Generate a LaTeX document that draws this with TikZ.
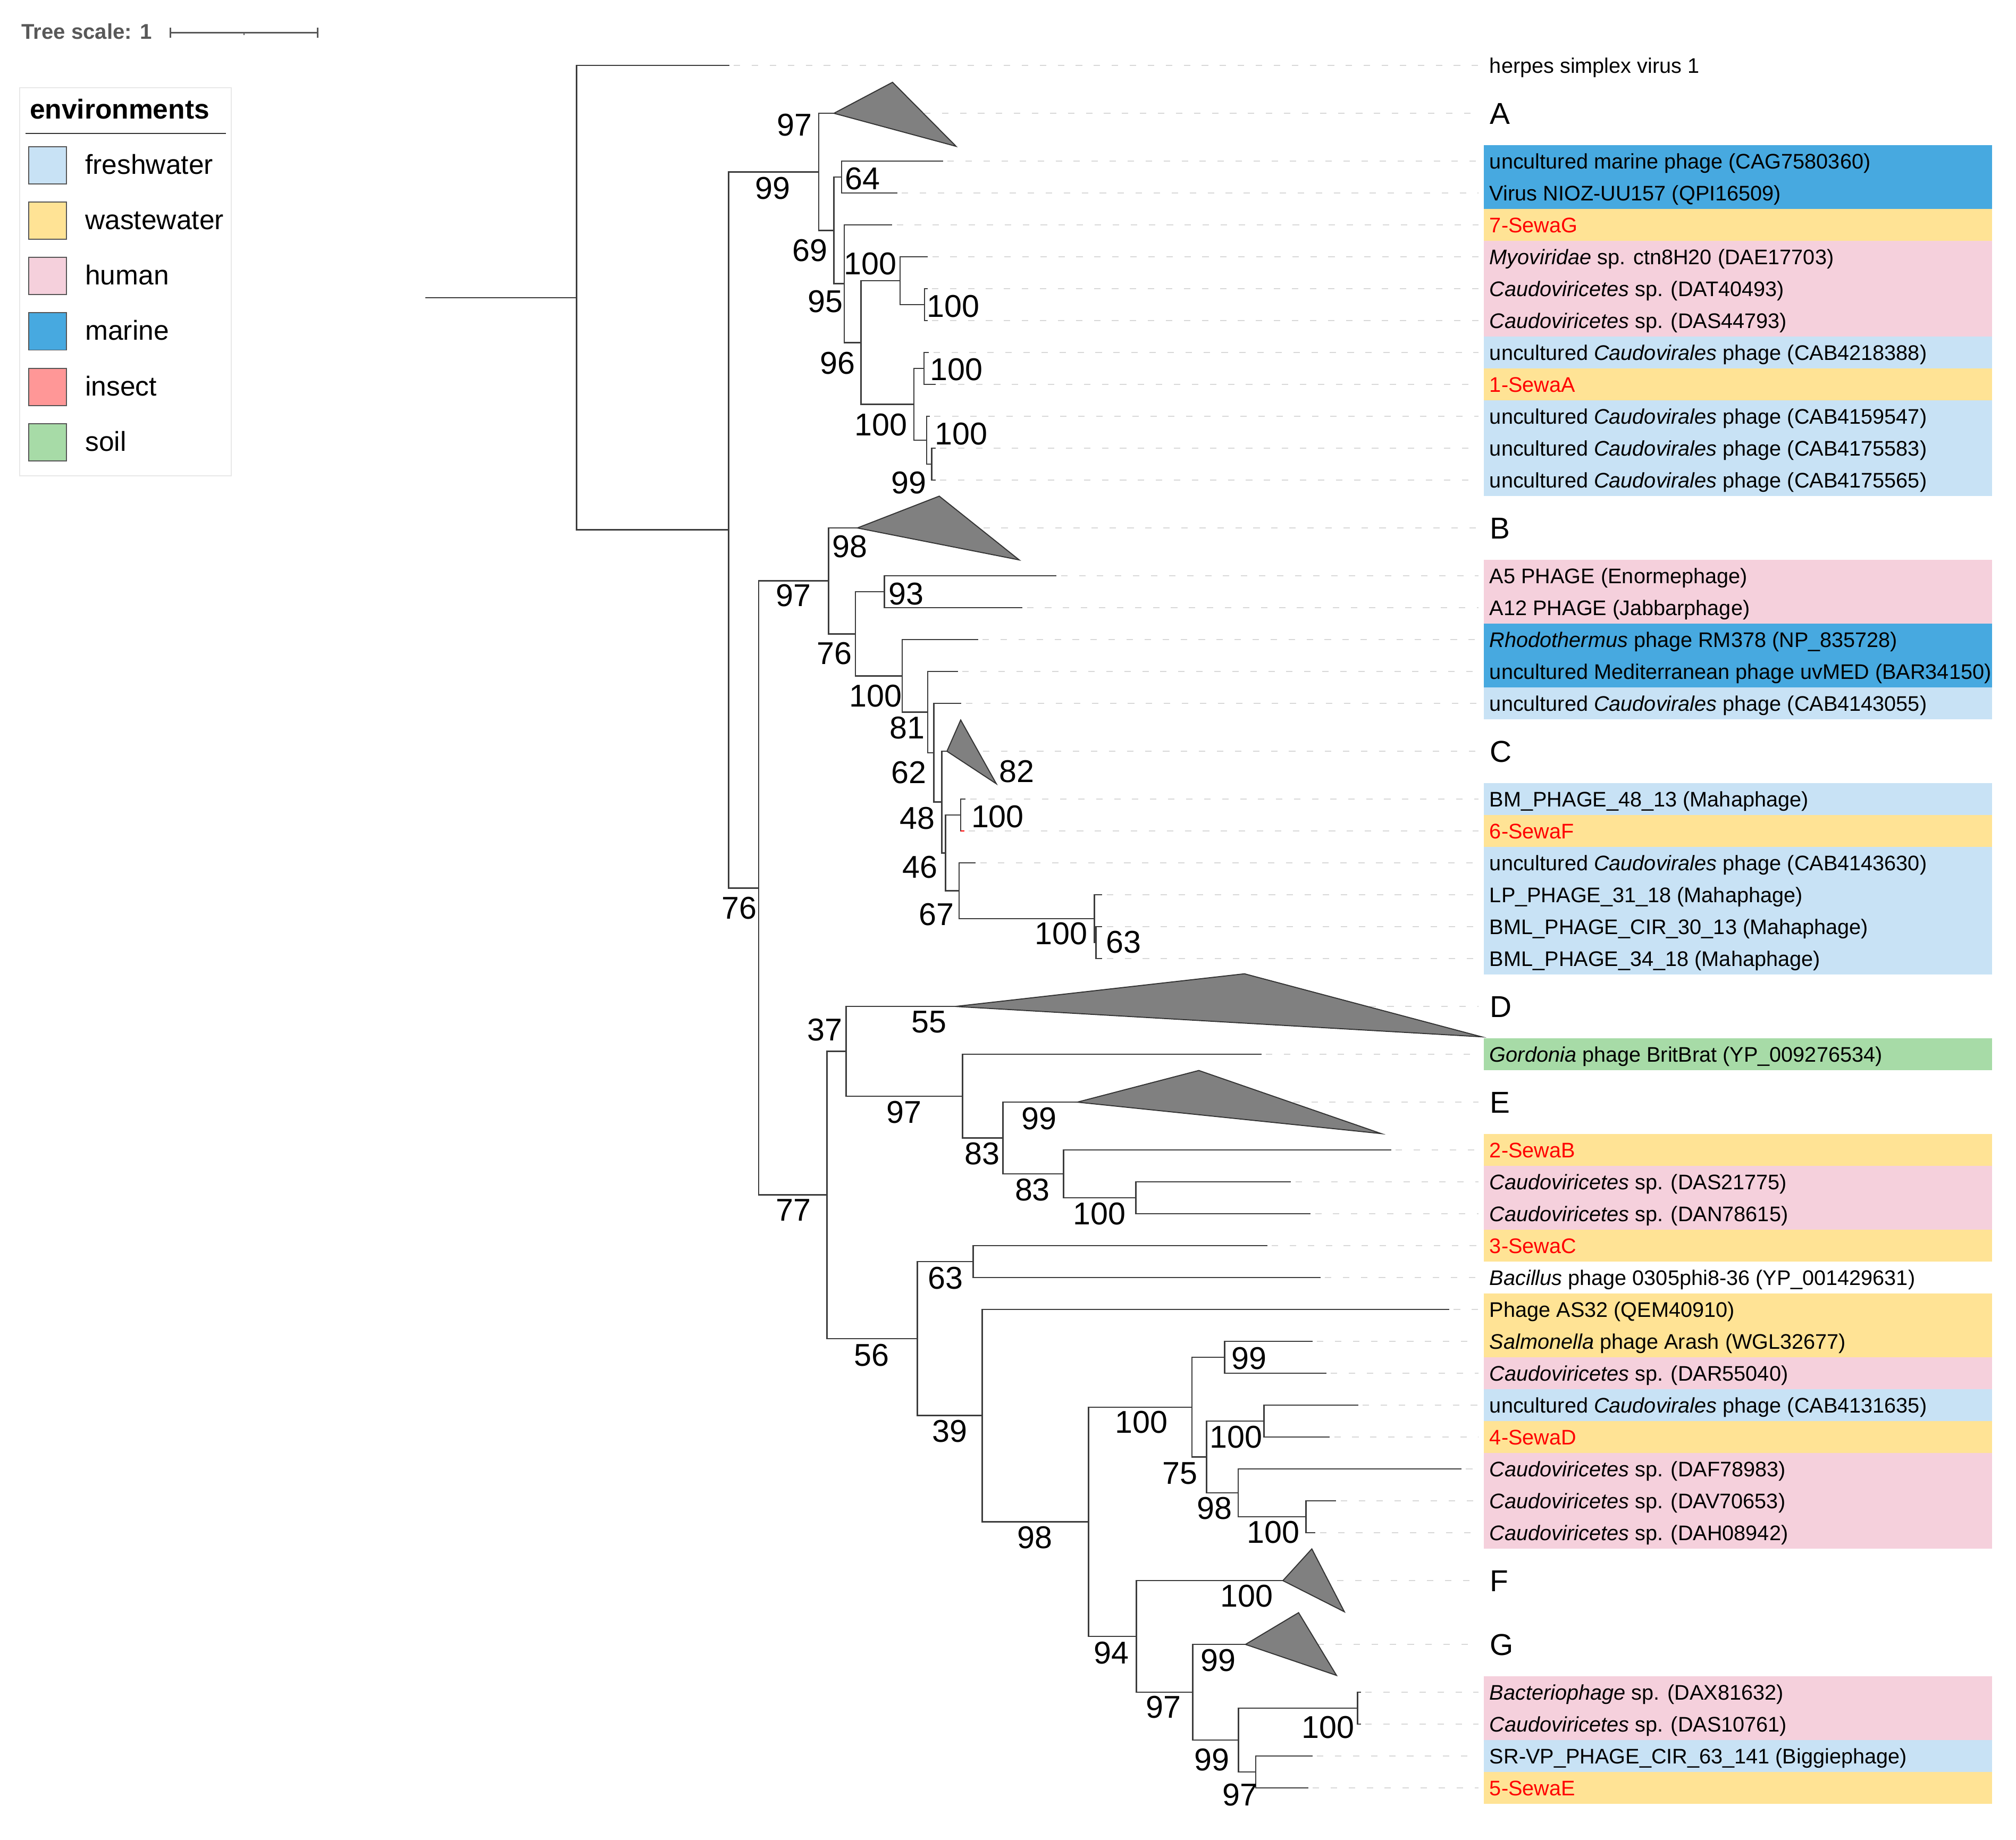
\documentclass[tikz,border=0pt]{standalone}
\usepackage{fontspec}
\setmainfont{Liberation Sans}
\usetikzlibrary{calc}
\definecolor{treecol}{HTML}{3C3C3C}
\definecolor{guidecol}{HTML}{D8D8D8}
\definecolor{cladefill}{HTML}{808080}
\definecolor{cladeedge}{HTML}{333333}
\definecolor{freshc}{HTML}{C8E2F5}
\definecolor{wastec}{HTML}{FFE395}
\definecolor{humanc}{HTML}{F5D0DC}
\definecolor{marinec}{HTML}{47A9E0}
\definecolor{insectc}{HTML}{FF9797}
\definecolor{soilc}{HTML}{A7DBA7}
\definecolor{sewared}{HTML}{FF0000}
\definecolor{scalegray}{HTML}{585858}
\definecolor{legendedge}{HTML}{E8E8E8}
\definecolor{swatchedge}{HTML}{555555}
\newcommand\taxfont{\fontsize{16.4}{18}\selectfont}
\newcommand\bsfont{\fontsize{24.5}{27}\selectfont}
\newcommand\letfont{\fontsize{23.5}{26}\selectfont}
\newcommand\legfont{\fontsize{21.3}{24}\selectfont}
\newcommand\envfont{\fontsize{21.3}{24}\selectfont\bfseries}
\newcommand\tsfont{\fontsize{16.6}{18}\selectfont\bfseries}
\newcommand\sewa[1]{\textcolor{sewared}{#1}}
\begin{document}
\begin{tikzpicture}[x=1pt,y=-1pt,
  br/.style={draw=treecol, line width=1.1pt, line cap=rect},
  guide/.style={draw=guidecol, line width=0.8pt, dash pattern=on 5pt off 9pt},
  clade/.style={fill=cladefill, draw=cladeedge, line width=0.8pt, line join=miter},
  bs/.style={inner sep=0pt, text height=17.5pt, text depth=0pt, font=\bsfont},
  taxon/.style={anchor=west, inner sep=0pt, text height=11.75pt, text depth=0pt, font=\taxfont},
  letter/.style={anchor=west, inner sep=0pt, text height=16.8pt, text depth=0pt, font=\letfont},
  swatch/.style={draw=swatchedge, line width=0.8pt}]
\useasboundingbox (0,0) rectangle (1568,1431);
\fill[white] (0,0) rectangle (1568,1431);

% ---------- colour bands ----------
\fill[marinec] (1153.9,112.93) rectangle (1549.2,162.55);
\fill[wastec]  (1153.9,162.55) rectangle (1549.2,187.35);
\fill[humanc]  (1153.9,187.35) rectangle (1549.2,261.79);
\fill[freshc]  (1153.9,261.79) rectangle (1549.2,286.60);
\fill[wastec]  (1153.9,286.60) rectangle (1549.2,311.40);
\fill[freshc]  (1153.9,311.40) rectangle (1549.2,385.84);
\fill[humanc]  (1153.9,435.46) rectangle (1549.2,485.08);
\fill[marinec] (1153.9,485.08) rectangle (1549.2,534.70);
\fill[freshc]  (1153.9,534.70) rectangle (1549.2,559.51);
\fill[freshc]  (1153.9,609.13) rectangle (1549.2,633.94);
\fill[wastec]  (1153.9,633.94) rectangle (1549.2,658.75);
\fill[freshc]  (1153.9,658.75) rectangle (1549.2,757.99);
\fill[soilc]   (1153.9,807.61) rectangle (1549.2,832.42);
\fill[wastec]  (1153.9,882.04) rectangle (1549.2,906.85);
\fill[humanc]  (1153.9,906.85) rectangle (1549.2,956.47);
\fill[wastec]  (1153.9,956.47) rectangle (1549.2,981.28);
\fill[wastec]  (1153.9,1006.09) rectangle (1549.2,1055.71);
\fill[humanc]  (1153.9,1055.71) rectangle (1549.2,1080.52);
\fill[freshc]  (1153.9,1080.52) rectangle (1549.2,1105.33);
\fill[wastec]  (1153.9,1105.33) rectangle (1549.2,1130.14);
\fill[humanc]  (1153.9,1130.14) rectangle (1549.2,1204.57);
\fill[humanc]  (1153.9,1303.81) rectangle (1549.2,1353.43);
\fill[freshc]  (1153.9,1353.43) rectangle (1549.2,1378.24);
\fill[wastec]  (1153.9,1378.24) rectangle (1549.2,1403.05);

% ---------- coordinates ----------
\coordinate (gx) at (1150,0);
\coordinate (tx) at (1158.4,0);
\coordinate (lx) at (1158.6,0);
\coordinate (r0) at (331.5,231.53);
\coordinate (nroot) at (448.5,231.53);
\coordinate (LH) at (566.7,50.90);
\coordinate (n1) at (566.7,412.15);
% clade A region
\coordinate (nA99) at (636.8,133.67);
\coordinate (triAa) at (648.6,88.12);
\coordinate (triAt) at (694.2,64);
\coordinate (triAb) at (743.6,113.8);
\coordinate (n69) at (648.6,179.22);
\coordinate (n64) at (654.6,137.74);
\coordinate (L1) at (733,125.33);
\coordinate (L2) at (697.3,150.14);
\coordinate (n95) at (656.6,220.70);
\coordinate (L3) at (693.4,174.95);
\coordinate (n96) at (669.6,266.44);
\coordinate (n100a) at (700,218.37);
\coordinate (L4) at (721.1,199.76);
\coordinate (n100b) at (719,236.98);
\coordinate (L5) at (720.8,224.57);
\coordinate (L6) at (720.8,249.38);
\coordinate (n100c) at (710.8,314.51);
\coordinate (n100d) at (718.7,286.60);
\coordinate (L7) at (722,274.19);
\coordinate (L8) at (727,299.00);
\coordinate (n100e) at (720.7,342.42);
\coordinate (L9) at (722.6,323.81);
\coordinate (n99y) at (724.6,361.03);
\coordinate (L10) at (727,348.62);
\coordinate (L11) at (727,373.43);
% clade B / C region
\coordinate (n76) at (590,690.63);
\coordinate (nB97) at (644.3,451.82);
\coordinate (triBa) at (666.8,410.65);
\coordinate (triBt) at (730.5,385.9);
\coordinate (triBb) at (792.7,435.5);
\coordinate (nB76) at (665.3,492.98);
\coordinate (n93) at (687.8,460.27);
\coordinate (L12) at (821.2,447.86);
\coordinate (L13) at (794.7,472.67);
\coordinate (nB100) at (701.7,525.69);
\coordinate (L14) at (760.2,497.48);
\coordinate (n81) at (721.5,553.89);
\coordinate (L15) at (744.4,522.29);
\coordinate (n62) at (726.2,585.48);
\coordinate (L16) at (747.2,547.10);
\coordinate (n48) at (732.5,623.86);
\coordinate (triCa) at (736.5,584.32);
\coordinate (triCt) at (747.2,560);
\coordinate (triCb) at (774.9,609.6);
\coordinate (n46) at (735.3,663.40);
\coordinate (nC100) at (747.2,633.94);
\coordinate (L17) at (750.5,621.53);
\coordinate (L18) at (749.5,646.34);
\coordinate (n67) at (746,692.86);
\coordinate (L19) at (758.3,671.15);
\coordinate (nC100b) at (851.2,714.57);
\coordinate (L20) at (856.8,695.96);
\coordinate (n63) at (852.5,733.18);
\coordinate (L21) at (856.8,720.77);
\coordinate (L22) at (856.8,745.58);
% lower region
\coordinate (n77) at (643.2,929.44);
\coordinate (n37) at (658.1,817.69);
\coordinate (triDa) at (743,782.80);
\coordinate (triDt) at (967.9,757.4);
\coordinate (triDb) at (1152.3,806.4);
\coordinate (nD97) at (748.7,852.58);
\coordinate (L23) at (980.5,820.01);
\coordinate (nD83) at (780.1,885.14);
\coordinate (triEa) at (837.9,857.23);
\coordinate (triEt) at (932.4,832.6);
\coordinate (triEb) at (1074.3,881.7);
\coordinate (nE83) at (827.2,913.05);
\coordinate (L24) at (1081.5,894.44);
\coordinate (nE100) at (883.4,931.66);
\coordinate (L25) at (1003.5,919.25);
\coordinate (L26) at (1018.8,944.06);
\coordinate (n56) at (713.6,1041.18);
\coordinate (n63b) at (756.8,981.28);
\coordinate (L27) at (985.1,968.87);
\coordinate (L28) at (1026.4,993.68);
\coordinate (n39) at (764,1101.07);
\coordinate (L29) at (1126.7,1018.49);
\coordinate (n98) at (846.7,1183.64);
\coordinate (n100f) at (927,1094.48);
\coordinate (n99f) at (952.6,1055.71);
\coordinate (L30) at (1020.3,1043.30);
\coordinate (L31) at (1031,1068.11);
\coordinate (n75) at (938.5,1133.24);
\coordinate (n100g) at (983.2,1105.33);
\coordinate (L32) at (1055.9,1092.92);
\coordinate (L33) at (1033.7,1117.73);
\coordinate (n98b) at (963,1161.15);
\coordinate (L34) at (1136.2,1142.54);
\coordinate (n100h) at (1015.8,1179.76);
\coordinate (L35) at (1038.7,1167.35);
\coordinate (L36) at (1022.6,1192.16);
\coordinate (n94) at (883.8,1272.80);
\coordinate (triFa) at (997.8,1229.38);
\coordinate (triFt) at (1020.3,1204.7);
\coordinate (triFb) at (1045.6,1253.6);
\coordinate (n97g) at (927.8,1316.22);
\coordinate (triGa) at (968.7,1279.0);
\coordinate (triGt) at (1010,1254.3);
\coordinate (triGb) at (1039.5,1303.1);
\coordinate (n99g) at (963.3,1353.43);
\coordinate (n100i) at (1055.9,1328.62);
\coordinate (L37) at (1058,1316.21);
\coordinate (L38) at (1058,1341.02);
\coordinate (n97h) at (976.7,1378.24);
\coordinate (L39) at (1020.3,1365.83);
\coordinate (L40) at (1016.9,1390.64);

% ---------- dashed guides ----------
\foreach \l in {LH,L1,L2,L3,L4,L5,L6,L7,L8,L9,L10,L11,L12,L13,L14,L15,L16,L17,L18,L19,L20,L21,L22,L23,L24,L25,L26,L27,L28,L29,L30,L31,L32,L33,L34,L35,L36,L37,L38,L39,L40}
  \draw[guide] ([xshift=4pt]\l) -- (\l -| gx);
\foreach \t in {triAa,triBa,triCa,triDa,triEa,triFa,triGa}
  \draw[guide] (\t) -- (\t -| gx);

% ---------- branches ----------
\draw[br] (r0) -- (nroot);
\foreach \p/\c in {nroot/LH, nroot/n1, n1/nA99, n1/n76,
  nA99/triAa, nA99/n69, n69/n64, n69/n95, n64/L1, n64/L2, n95/L3, n95/n96,
  n96/n100a, n96/n100c, n100a/L4, n100a/n100b, n100b/L5, n100b/L6,
  n100c/n100d, n100c/n100e, n100d/L7, n100d/L8, n100e/L9, n100e/n99y,
  n99y/L10, n99y/L11,
  n76/nB97, n76/n77, nB97/triBa, nB97/nB76, nB76/n93, nB76/nB100,
  n93/L12, n93/L13, nB100/L14, nB100/n81, n81/L15, n81/n62, n62/L16, n62/n48,
  n48/triCa, n48/n46, n46/nC100, n46/n67, nC100/L17, nC100/L18,
  n67/L19, n67/nC100b, nC100b/L20, nC100b/n63, n63/L21, n63/L22,
  n77/n37, n77/n56, n37/triDa, n37/nD97, nD97/L23, nD97/nD83,
  nD83/triEa, nD83/nE83, nE83/L24, nE83/nE100, nE100/L25, nE100/L26,
  n56/n63b, n56/n39, n63b/L27, n63b/L28, n39/L29, n39/n98,
  n98/n100f, n98/n94, n100f/n99f, n100f/n75, n99f/L30, n99f/L31,
  n75/n100g, n75/n98b, n100g/L32, n100g/L33, n98b/L34, n98b/n100h,
  n100h/L35, n100h/L36, n94/triFa, n94/n97g, n97g/triGa, n97g/n99g,
  n99g/n100i, n99g/n97h, n100i/L37, n100i/L38, n97h/L39, n97h/L40}
  \draw[br] (\p) |- (\c);
\draw[br, draw=sewared] ([xshift=0.6pt]nC100 |- L18) -- (L18);

% ---------- collapsed clades ----------
\draw[clade] (triAa) -- (triAt) -- (triAb) -- cycle;
\draw[clade] (triBa) -- (triBt) -- (triBb) -- cycle;
\draw[clade] (triCa) -- (triCt) -- (triCb) -- cycle;
\draw[clade] (triDa) -- (triDt) -- (triDb) -- cycle;
\draw[clade] (triEa) -- (triEt) -- (triEb) -- cycle;
\draw[clade] (triFa) -- (triFt) -- (triFb) -- cycle;
\draw[clade] (triGa) -- (triGt) -- (triGb) -- cycle;

% ---------- bootstrap values ----------
\foreach \x/\y/\t [count=\i] in {601/146/99, 618/97/97, 630/194.5/69, 671/138.7/64,
  642/234/95, 651.5/282/96, 677/205/100, 741.5/238/100, 685/330/100, 744/287/100,
  747.5/337/100, 707/375/99,
  575/706/76, 617.3/463/97, 661/425/98, 649/508/76, 704.7/461.4/93, 681/541/100,
  705.7/566/81, 706.7/600.4/62, 713.4/636/48, 790.7/599.6/82, 715.6/674.3/46,
  775.9/634.7/100, 728.3/711/67, 825.3/725.7/100, 873.8/732.3/63,
  617/941/77, 641.5/800.8/37, 677.8/1053.9/56, 722.7/794.5/55, 703/864.7/97,
  763.9/897/83, 808/869.7/99, 803/925.3/83, 855.1/943.6/100, 735.2/993.7/63,
  738.8/1112.8/39, 804.8/1195.7/98, 887.6/1106/100, 864.6/1285.4/94,
  971.4/1056.4/99, 917.8/1145.7/75, 961.2/1117.3/100, 944.6/1173/98,
  990.3/1191.6/100, 969.5/1241/100, 904.8/1327.4/97, 947.5/1291/99,
  942.5/1368.3/99, 1032.9/1343.3/100, 964.5/1395.5/97}
  \node[bs] (bs\i) at (\x,\y) {\t};

% ---------- clade letters ----------
\node[letter] (labA) at (triAa -| lx) {A};
\node[letter] (labB) at (triBa -| lx) {B};
\node[letter] (labC) at (triCa -| lx) {C};
\node[letter] (labD) at (triDa -| lx) {D};
\node[letter] (labE) at (triEa -| lx) {E};
\node[letter] (labF) at (triFa -| lx) {F};
\node[letter] (labG) at (triGa -| lx) {G};

% ---------- taxa ----------
\node[taxon] (tH) at (LH -| tx) {herpes simplex virus 1};
\node[taxon] (t1) at (L1 -| tx) {uncultured marine phage (CAG7580360)};
\node[taxon] (t2) at (L2 -| tx) {Virus NIOZ-UU157 (QPI16509)};
\node[taxon] (t3) at (L3 -| tx) {\sewa{7-SewaG}};
\node[taxon] (t4) at (L4 -| tx) {\textit{Myoviridae} sp. ctn8H20 (DAE17703)};
\node[taxon] (t5) at (L5 -| tx) {\textit{Caudoviricetes} sp. (DAT40493)};
\node[taxon] (t6) at (L6 -| tx) {\textit{Caudoviricetes} sp. (DAS44793)};
\node[taxon] (t7) at (L7 -| tx) {uncultured \textit{Caudovirales} phage (CAB4218388)};
\node[taxon] (t8) at (L8 -| tx) {\sewa{1-SewaA}};
\node[taxon] (t9) at (L9 -| tx) {uncultured \textit{Caudovirales} phage (CAB4159547)};
\node[taxon] (t10) at (L10 -| tx) {uncultured \textit{Caudovirales} phage (CAB4175583)};
\node[taxon] (t11) at (L11 -| tx) {uncultured \textit{Caudovirales} phage (CAB4175565)};
\node[taxon] (t12) at (L12 -| tx) {A5 PHAGE (Enormephage)};
\node[taxon] (t13) at (L13 -| tx) {A12 PHAGE (Jabbarphage)};
\node[taxon] (t14) at (L14 -| tx) {\textit{Rhodothermus} phage RM378 (NP\_835728)};
\node[taxon] (t15) at (L15 -| tx) {uncultured Mediterranean phage uvMED (BAR34150)};
\node[taxon] (t16) at (L16 -| tx) {uncultured \textit{Caudovirales} phage (CAB4143055)};
\node[taxon] (t17) at (L17 -| tx) {BM\_PHAGE\_48\_13 (Mahaphage)};
\node[taxon] (t18) at (L18 -| tx) {\sewa{6-SewaF}};
\node[taxon] (t19) at (L19 -| tx) {uncultured \textit{Caudovirales} phage (CAB4143630)};
\node[taxon] (t20) at (L20 -| tx) {LP\_PHAGE\_31\_18 (Mahaphage)};
\node[taxon] (t21) at (L21 -| tx) {BML\_PHAGE\_CIR\_30\_13 (Mahaphage)};
\node[taxon] (t22) at (L22 -| tx) {BML\_PHAGE\_34\_18 (Mahaphage)};
\node[taxon] (t23) at (L23 -| tx) {\textit{Gordonia} phage BritBrat (YP\_009276534)};
\node[taxon] (t24) at (L24 -| tx) {\sewa{2-SewaB}};
\node[taxon] (t25) at (L25 -| tx) {\textit{Caudoviricetes} sp. (DAS21775)};
\node[taxon] (t26) at (L26 -| tx) {\textit{Caudoviricetes} sp. (DAN78615)};
\node[taxon] (t27) at (L27 -| tx) {\sewa{3-SewaC}};
\node[taxon] (t28) at (L28 -| tx) {\textit{Bacillus} phage 0305phi8-36 (YP\_001429631)};
\node[taxon] (t29) at (L29 -| tx) {Phage AS32 (QEM40910)};
\node[taxon] (t30) at (L30 -| tx) {\textit{Salmonella} phage Arash (WGL32677)};
\node[taxon] (t31) at (L31 -| tx) {\textit{Caudoviricetes} sp. (DAR55040)};
\node[taxon] (t32) at (L32 -| tx) {uncultured \textit{Caudovirales} phage (CAB4131635)};
\node[taxon] (t33) at (L33 -| tx) {\sewa{4-SewaD}};
\node[taxon] (t34) at (L34 -| tx) {\textit{Caudoviricetes} sp. (DAF78983)};
\node[taxon] (t35) at (L35 -| tx) {\textit{Caudoviricetes} sp. (DAV70653)};
\node[taxon] (t36) at (L36 -| tx) {\textit{Caudoviricetes} sp. (DAH08942)};
\node[taxon] (t37) at (L37 -| tx) {\textit{Bacteriophage} sp. (DAX81632)};
\node[taxon] (t38) at (L38 -| tx) {\textit{Caudoviricetes} sp. (DAS10761)};
\node[taxon] (t39) at (L39 -| tx) {SR-VP\_PHAGE\_CIR\_63\_141 (Biggiephage)};
\node[taxon] (t40) at (L40 -| tx) {\sewa{5-SewaE}};

% ---------- tree scale ----------
\node[anchor=base west, inner sep=0pt, font=\tsfont, text=scalegray] (tscale) at (16.6,30.3) {Tree scale: 1};
\coordinate (sbL) at (132.5,25.4);
\coordinate (sbR) at (247,25.4);
\coordinate (sbM) at (189.8,25.4);
\draw[scalegray, line width=1pt] (sbL) -- (sbR);
\draw[scalegray, line width=1pt] ([yshift=4pt]sbL) -- ([yshift=-3.8pt]sbL);
\draw[scalegray, line width=1pt] ([yshift=4pt]sbR) -- ([yshift=-3.8pt]sbR);
\draw[scalegray, line width=0.8pt] (sbM) -- ([yshift=-2pt]sbM);

% ---------- legend ----------
\draw[draw=legendedge, fill=white, line width=0.8pt] (15.3,68.1) rectangle (180,369.9);
\node[anchor=base west, inner sep=0pt, font=\envfont] (envt) at (23,92.6) {environments};
\draw[black!80, line width=1pt] (19.9,103.7) -- (175.9,103.7);
\foreach \c/\n/\y in {freshc/freshwater/128.5, wastec/wastewater/171.5, humanc/human/214.7,
  marinec/marine/257.8, insectc/insect/301, soilc/soil/344}
{
  \draw[swatch, fill=\c] (22.5,\y-14.5) rectangle (51.7,\y+14.5);
  \node[anchor=base west, inner sep=0pt, font=\legfont] (leg\n) at (66.1,\y+6.8) {\n};
}
\end{tikzpicture}
\end{document}
